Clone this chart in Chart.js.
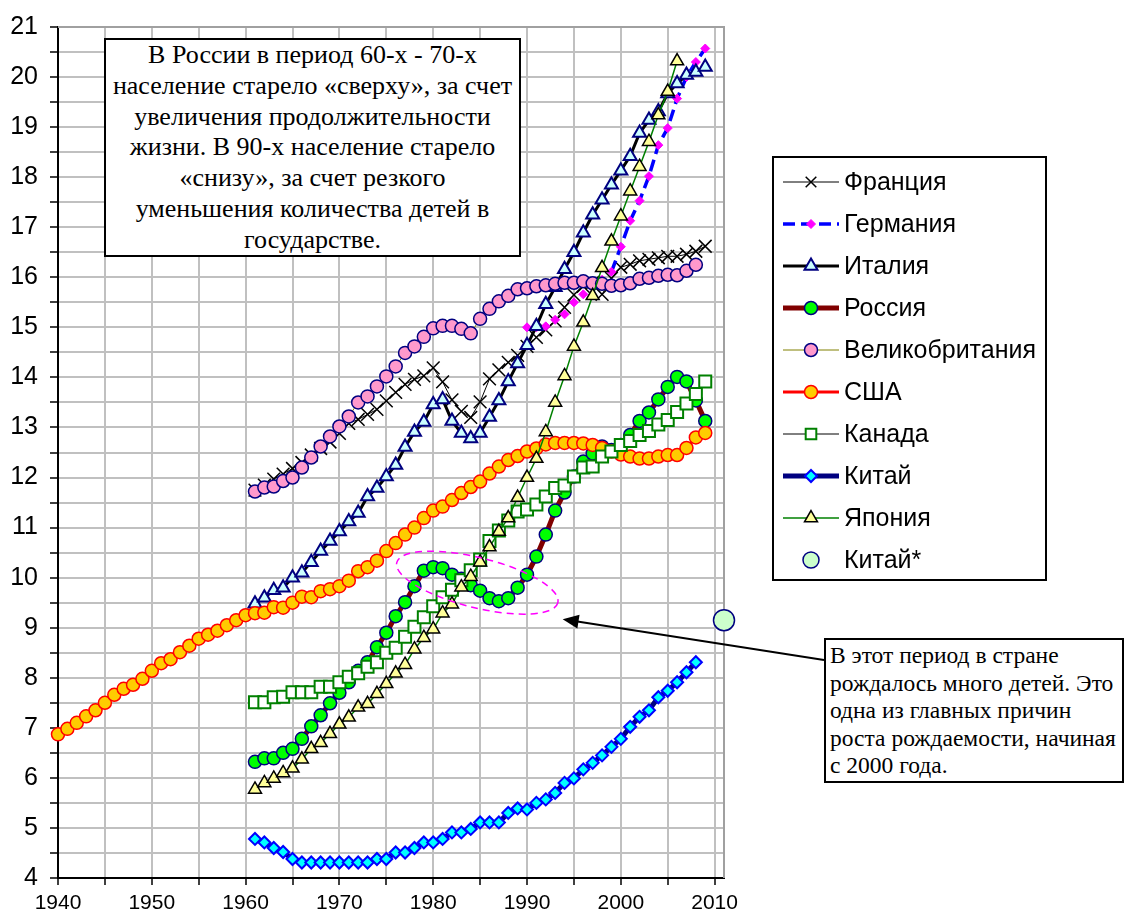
<!DOCTYPE html>
<html>
<head>
<meta charset="utf-8">
<script src="https://cdn.jsdelivr.net/npm/chart.js@4.4.1/dist/chart.umd.min.js"></script>
<style>
html,body{margin:0;padding:0;background:#fff;}
#wrap{position:relative;width:1124px;height:913px;overflow:hidden;}
.note{position:absolute;background:#fff;border:2px solid #000;box-sizing:border-box;white-space:nowrap;
 font-family:"Liberation Serif","Times New Roman",serif;color:#000;}
#note1{left:104px;top:38px;width:417px;height:219px;font-size:26px;line-height:30.8px;text-align:center;}
#note2{left:824px;top:638px;width:300px;height:145px;font-size:23.5px;line-height:27.5px;padding:2px 0 0 4px;}
</style>
</head>
<body>
<div id="wrap">
<canvas id="chart" width="1124" height="913"></canvas>
<div class="note" id="note1">В России в период 60-х - 70-х<br>население старело «сверху», за счет<br>увеличения продолжительности<br>жизни. В 90-х население старело<br>«снизу», за счет резкого<br>уменьшения количества детей в<br>государстве.</div>
<div class="note" id="note2">В этот период в стране<br>рождалось много детей. Это<br>одна из главных причин<br>роста рождаемости, начиная<br>с 2000 года.</div>
</div>
<script>
// tick labels
const xTickLabels = [1940,1950,1960,1970,1980,1990,2000,2010];
const yTickLabels = [4,5,6,7,8,9,10,11,12,13,14,15,16,17,18,19,20,21];

// series values, one value per year from the start year
const franceStart = 1961;
const france = [11.75,11.85,11.97,12.07,12.18,12.30,12.45,12.58,12.71,12.88,
 13.08,13.16,13.26,13.36,13.53,13.70,13.86,13.96,14.03,14.19,
 13.91,13.55,13.32,13.20,13.51,13.97,14.15,14.30,14.44,14.62,
 14.80,14.95,15.13,15.40,15.65,15.82,15.90,15.66,15.98,16.20,
 16.26,16.33,16.36,16.39,16.42,16.42,16.46,16.52,16.62];

const germanyStart = 1990;
const germany = [15.00,15.00,15.02,15.15,15.26,15.50,15.66,15.80,15.95,16.11,
 16.61,17.13,17.53,18.02,18.64,18.98,19.57,20.00,20.30,20.57];

const italyStart = 1961;
const italy = [9.48,9.60,9.75,9.80,10.00,10.10,10.31,10.53,10.73,10.92,
 11.12,11.29,11.62,11.79,12.02,12.25,12.61,12.91,13.11,13.46,
 13.56,13.13,12.89,12.78,12.89,13.21,13.54,13.92,14.28,14.64,
 15.02,15.46,15.80,16.16,16.50,16.89,17.25,17.55,17.85,18.13,
 18.42,18.88,19.14,19.31,19.67,19.87,20.04,20.10,20.20];

const russiaStart = 1961;
const russia = [6.32,6.39,6.39,6.50,6.58,6.78,7.03,7.25,7.49,7.70,
 7.91,8.14,8.31,8.61,8.90,9.23,9.51,9.83,10.14,10.21,
 10.19,10.06,9.98,9.85,9.74,9.59,9.53,9.59,9.80,10.06,
 10.42,10.86,11.34,11.70,12.02,12.32,12.48,12.62,12.55,12.65,
 12.85,13.13,13.30,13.56,13.81,14.01,13.92,13.54,13.13];

const ukStart = 1961;
const uk = [11.72,11.80,11.82,11.93,12.00,12.20,12.40,12.62,12.82,13.02,
 13.22,13.50,13.62,13.82,14.02,14.22,14.49,14.62,14.81,14.98,
 15.03,15.03,14.97,14.88,15.17,15.37,15.52,15.63,15.76,15.78,
 15.82,15.84,15.87,15.89,15.89,15.92,15.88,15.87,15.83,15.84,
 15.88,15.97,15.99,16.03,16.05,16.04,16.13,16.25];

const usaStart = 1940;
const usa = [6.87,6.98,7.10,7.23,7.35,7.50,7.66,7.78,7.86,7.98,
 8.14,8.29,8.37,8.51,8.64,8.78,8.86,8.94,9.05,9.15,
 9.25,9.29,9.30,9.41,9.40,9.50,9.62,9.61,9.73,9.77,
 9.83,9.94,10.13,10.21,10.34,10.53,10.69,10.86,11.00,11.19,
 11.34,11.42,11.55,11.69,11.81,11.92,12.08,12.22,12.35,12.43,
 12.52,12.58,12.66,12.69,12.69,12.69,12.68,12.65,12.59,12.52,
 12.46,12.42,12.38,12.38,12.42,12.45,12.45,12.59,12.80,12.89];

const canadaStart = 1961;
const canada = [7.51,7.51,7.61,7.62,7.71,7.71,7.71,7.82,7.82,7.91,
 8.02,8.09,8.22,8.31,8.50,8.60,8.82,9.02,9.21,9.43,
 9.61,9.76,9.95,10.15,10.36,10.73,10.94,11.14,11.32,11.36,
 11.46,11.62,11.79,11.84,12.02,12.20,12.22,12.42,12.52,12.65,
 12.73,12.85,12.93,13.06,13.15,13.31,13.48,13.67,13.92];

const chinaStart = 1961;
const china = [4.78,4.71,4.60,4.52,4.38,4.31,4.31,4.31,4.31,4.31,
 4.31,4.31,4.31,4.38,4.38,4.51,4.51,4.60,4.71,4.71,
 4.78,4.91,4.91,4.98,5.11,5.11,5.11,5.30,5.39,5.37,
 5.50,5.57,5.70,5.90,5.99,6.17,6.30,6.45,6.62,6.78,
 7.02,7.22,7.35,7.61,7.74,7.91,8.11,8.31];

const japanStart = 1961;
const japan = [5.77,5.90,5.99,6.10,6.19,6.37,6.58,6.70,6.88,7.07,
 7.21,7.41,7.48,7.68,7.88,8.09,8.26,8.57,8.80,8.97,
 9.29,9.47,9.81,10.02,10.31,10.61,10.92,11.19,11.60,12.00,
 12.38,12.91,13.50,14.03,14.62,15.10,15.63,16.19,16.72,17.22,
 17.72,18.21,18.71,19.24,19.71,20.32];

const chinaStarYears = [2011];
const chinaStarValues = [9.15];

// annotation anchors in data units
const ovalCenter = [1984.7, 9.9];
const arrowTip = [1993.8, 9.17];

function series(start, vals){ return vals.map((v,i)=>({x:start+i, y:v})); }

const base = {fill:false, tension:0, clip:false};

const datasets = [
 {...base, label:'Франция', data:series(franceStart,france), borderColor:'#000000', borderWidth:1,
  pointStyle:'crossRot', pointRadius:9, pointBorderColor:'#000000', pointBackgroundColor:'#000000', pointBorderWidth:1.5, order:10},
 {...base, label:'Германия', data:series(germanyStart,germany), borderColor:'#0000ff', borderWidth:3.5, borderDash:[12,6],
  pointStyle:'rectRot', pointRadius:4.5, pointBackgroundColor:'#ff00ff', pointBorderColor:'#ff00ff', pointBorderWidth:1, order:9,
  segment:{borderColor:c=>c.p0.parsed.x<1999?'rgba(0,0,0,0)':undefined}},
 {...base, label:'Италия', data:series(italyStart,italy), borderColor:'#000000', borderWidth:3,
  pointStyle:'triangle', pointRadius:7.5, pointBackgroundColor:'#ccffff', pointBorderColor:'#000080', pointBorderWidth:2, order:8},
 {...base, label:'Россия', data:series(russiaStart,russia), borderColor:'#800000', borderWidth:5,
  pointStyle:'circle', pointRadius:6.5, pointBackgroundColor:'#00ff00', pointBorderColor:'#000080', pointBorderWidth:1.5, order:7},
 {...base, label:'Великобритания', data:series(ukStart,uk), borderColor:'#808000', borderWidth:1,
  pointStyle:'circle', pointRadius:6.5, pointBackgroundColor:'#ff99cc', pointBorderColor:'#000080', pointBorderWidth:1.5, order:6},
 {...base, label:'США', data:series(usaStart,usa), borderColor:'#ff0000', borderWidth:3,
  pointStyle:'circle', pointRadius:6.5, pointBackgroundColor:'#ffcc00', pointBorderColor:'#ff0000', pointBorderWidth:1.5, order:5},
 {...base, label:'Канада', data:series(canadaStart,canada), borderColor:'#000000', borderWidth:1,
  pointStyle:'rect', pointRadius:8.5, pointBackgroundColor:'#ffffff', pointBorderColor:'#008000', pointBorderWidth:2, order:4},
 {...base, label:'Китай', data:series(chinaStart,china), borderColor:'#000080', borderWidth:5,
  pointStyle:'rectRot', pointRadius:6, pointBackgroundColor:'#00ffff', pointBorderColor:'#0000ff', pointBorderWidth:2, order:3},
 {...base, label:'Япония', data:series(japanStart,japan), borderColor:'#008000', borderWidth:1.5,
  pointStyle:'triangle', pointRadius:7.5, pointBackgroundColor:'#ffff99', pointBorderColor:'#000000', pointBorderWidth:1.5, order:2},
 {...base, label:'Китай*', data:chinaStarYears.map((x,i)=>({x:x, y:chinaStarValues[i]})), showLine:false, borderColor:'#000080',
  pointStyle:'circle', pointRadius:10.5, pointBackgroundColor:'#ccffcc', pointBorderColor:'#000080', pointBorderWidth:1.5, order:1}
];

// legend box, oval, arrow, plot frame
const extras = {
 id:'extras',
 beforeDatasetsDraw(chart){
  const {ctx, chartArea:a} = chart;
  ctx.save();
  ctx.strokeStyle='#a0a0a0'; ctx.lineWidth=2;
  ctx.beginPath(); ctx.moveTo(a.left,a.top); ctx.lineTo(a.right,a.top); ctx.lineTo(a.right,a.bottom); ctx.stroke();
  ctx.restore();
 },
 afterDatasetsDraw(chart){
  const {ctx} = chart, xs = chart.scales.x, ys = chart.scales.y;
  ctx.save();
  // dashed oval
  ctx.strokeStyle='#ff00ff'; ctx.lineWidth=1.5; ctx.setLineDash([7,5]);
  ctx.beginPath();
  ctx.ellipse(xs.getPixelForValue(ovalCenter[0]), ys.getPixelForValue(ovalCenter[1]), 83, 25, 14*Math.PI/180, 0, Math.PI*2);
  ctx.stroke();
  ctx.setLineDash([]);
  // arrow from the note box
  const tx = xs.getPixelForValue(arrowTip[0]), ty = ys.getPixelForValue(arrowTip[1]);
  const sx = 824, sy = 660;
  const ang = Math.atan2(ty-sy, tx-sx);
  ctx.strokeStyle='#000'; ctx.fillStyle='#000'; ctx.lineWidth=1.8;
  ctx.beginPath(); ctx.moveTo(sx,sy); ctx.lineTo(tx-Math.cos(ang)*10, ty-Math.sin(ang)*10); ctx.stroke();
  ctx.beginPath();
  ctx.moveTo(tx,ty);
  ctx.lineTo(tx-Math.cos(ang)*16+Math.sin(ang)*7, ty-Math.sin(ang)*16-Math.cos(ang)*7);
  ctx.lineTo(tx-Math.cos(ang)*16-Math.sin(ang)*7, ty-Math.sin(ang)*16+Math.cos(ang)*7);
  ctx.closePath(); ctx.fill();
  ctx.restore();
 },
 afterDraw(chart){
  const {ctx} = chart;
  const L = {left:773, top:157, right:1046, bottom:580, firstY:182, step:42, x0:783, x1:839, mx:811, tx:844};
  ctx.save();
  ctx.fillStyle='#fff'; ctx.fillRect(L.left,L.top,L.right-L.left,L.bottom-L.top);
  ctx.strokeStyle='#000'; ctx.lineWidth=2; ctx.strokeRect(L.left,L.top,L.right-L.left,L.bottom-L.top);
  chart.data.datasets.forEach((ds,i)=>{
   const y = L.firstY + i*L.step;
   if(ds.showLine!==false){
    ctx.save();
    ctx.strokeStyle=ds.borderColor; ctx.lineWidth=ds.borderWidth; ctx.setLineDash(ds.borderDash||[]);
    ctx.beginPath(); ctx.moveTo(L.x0,y); ctx.lineTo(L.x1,y); ctx.stroke();
    ctx.restore();
   }
   ctx.save();
   ctx.fillStyle=ds.pointBackgroundColor; ctx.strokeStyle=ds.pointBorderColor; ctx.lineWidth=ds.pointBorderWidth;
   const r = ds.label==='Китай*' ? 8 : Math.min(ds.pointRadius,7.5);
   Chart.helpers.drawPoint(ctx,{pointStyle:ds.pointStyle, radius:r, rotation:0, borderWidth:ds.pointBorderWidth}, L.mx, y);
   ctx.restore();
   ctx.fillStyle='#000'; ctx.font="25px 'Liberation Sans', Arial, sans-serif"; ctx.textBaseline='middle'; ctx.textAlign='left';
   ctx.fillText(ds.label, L.tx, y+1);
  });
  ctx.restore();
 }
};

new Chart(document.getElementById('chart'), {
 type:'line',
 data:{datasets:datasets},
 options:{
  responsive:false, animation:false, events:[],
  layout:{padding:{top:22, right:400, left:0, bottom:0}},
  plugins:{legend:{display:false}, tooltip:{enabled:false}},
  scales:{
   x:{type:'linear', min:1940, max:2011,
    afterFit(s){ s.height=35; },
    border:{color:'#000', width:2},
    grid:{color:'#c0c0c0', lineWidth:2, tickColor:'#000', tickLength:7, tickWidth:1.5},
    ticks:{stepSize:5, includeBounds:false, autoSkip:false, maxRotation:0, padding:6, color:'#000',
     font:{family:"'Liberation Sans', Arial, sans-serif", size:21},
     callback:v=> xTickLabels.includes(v) ? String(v) : ''}},
   y:{type:'linear', min:4, max:21,
    afterFit(s){ s.width=58; },
    border:{color:'#000', width:2},
    grid:{color:'#c0c0c0', lineWidth:2, tickColor:'#000', tickLength:8, tickWidth:1.5},
    ticks:{stepSize:0.5, includeBounds:false, autoSkip:false, padding:12, color:'#000',
     font:{family:"'Liberation Sans', Arial, sans-serif", size:25},
     callback:v=> yTickLabels.includes(v) ? String(v) : ''}}
  }
 },
 plugins:[extras]
});
</script>
</body>
</html>
